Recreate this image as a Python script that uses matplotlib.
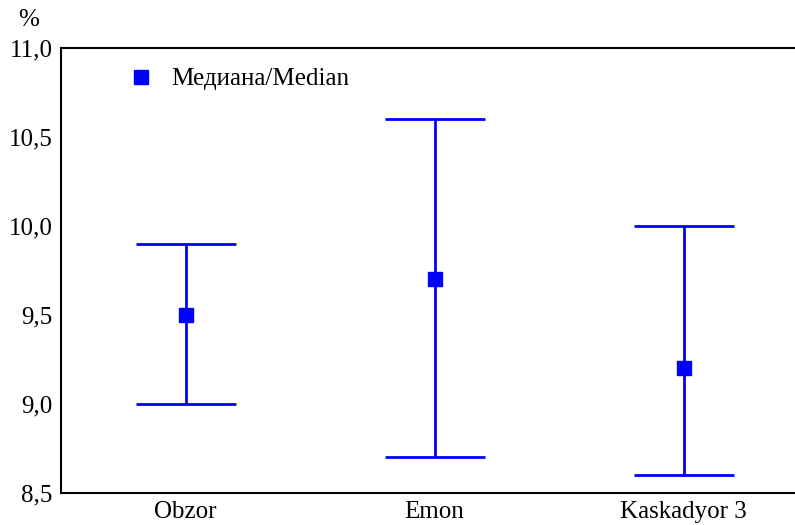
import matplotlib
matplotlib.use("Agg")
import matplotlib.pyplot as plt
from matplotlib.ticker import FixedLocator, FuncFormatter

plt.rcParams["font.family"] = ["Liberation Serif", "DejaVu Serif"]

sorts = ["Obzor", "Emon", "Kaskadyor 3"]
median = [9.5, 9.7, 9.2]
low = [9.0, 8.7, 8.6]
high = [9.9, 10.6, 10.0]
yticks = [8.5, 9.0, 9.5, 10.0, 10.5, 11.0]

fig = plt.figure(figsize=(7.95, 5.25), dpi=100)
ax = fig.add_axes([61 / 795, 32 / 525, 747 / 795, 445 / 525])

x = list(range(len(sorts)))
err = [[m - l for m, l in zip(median, low)], [h - m for m, h in zip(median, high)]]
ax.errorbar(x, median, yerr=err, fmt="none", ecolor="#0000ff",
            elinewidth=2, capsize=36, capthick=2)
ax.plot(x, median, "s", color="#0000ff", markersize=10, linestyle="none",
        label="Медиана/Median")

ax.set_xlim(-0.5, 2.5)
ax.set_ylim(8.5, 11.0)
ax.set_xticks(x)
ax.set_xticklabels(sorts)
ax.yaxis.set_major_locator(FixedLocator(yticks))
ax.yaxis.set_major_formatter(FuncFormatter(lambda v, p: f"{v:.1f}".replace(".", ",")))
ax.tick_params(axis="y", length=0, labelsize=18, pad=6)
ax.tick_params(axis="x", length=0, labelsize=18, pad=6)
for s in ax.spines.values():
    s.set_linewidth(1.5)

ax.legend(loc="center left", bbox_to_anchor=(0.057, 0.93), frameon=False,
          fontsize=18, handletextpad=0.6, handlelength=1.2)
fig.text(18 / 795, 1 - 20 / 525, "%", fontsize=18, va="center")

fig.savefig("out.png", dpi=100)
